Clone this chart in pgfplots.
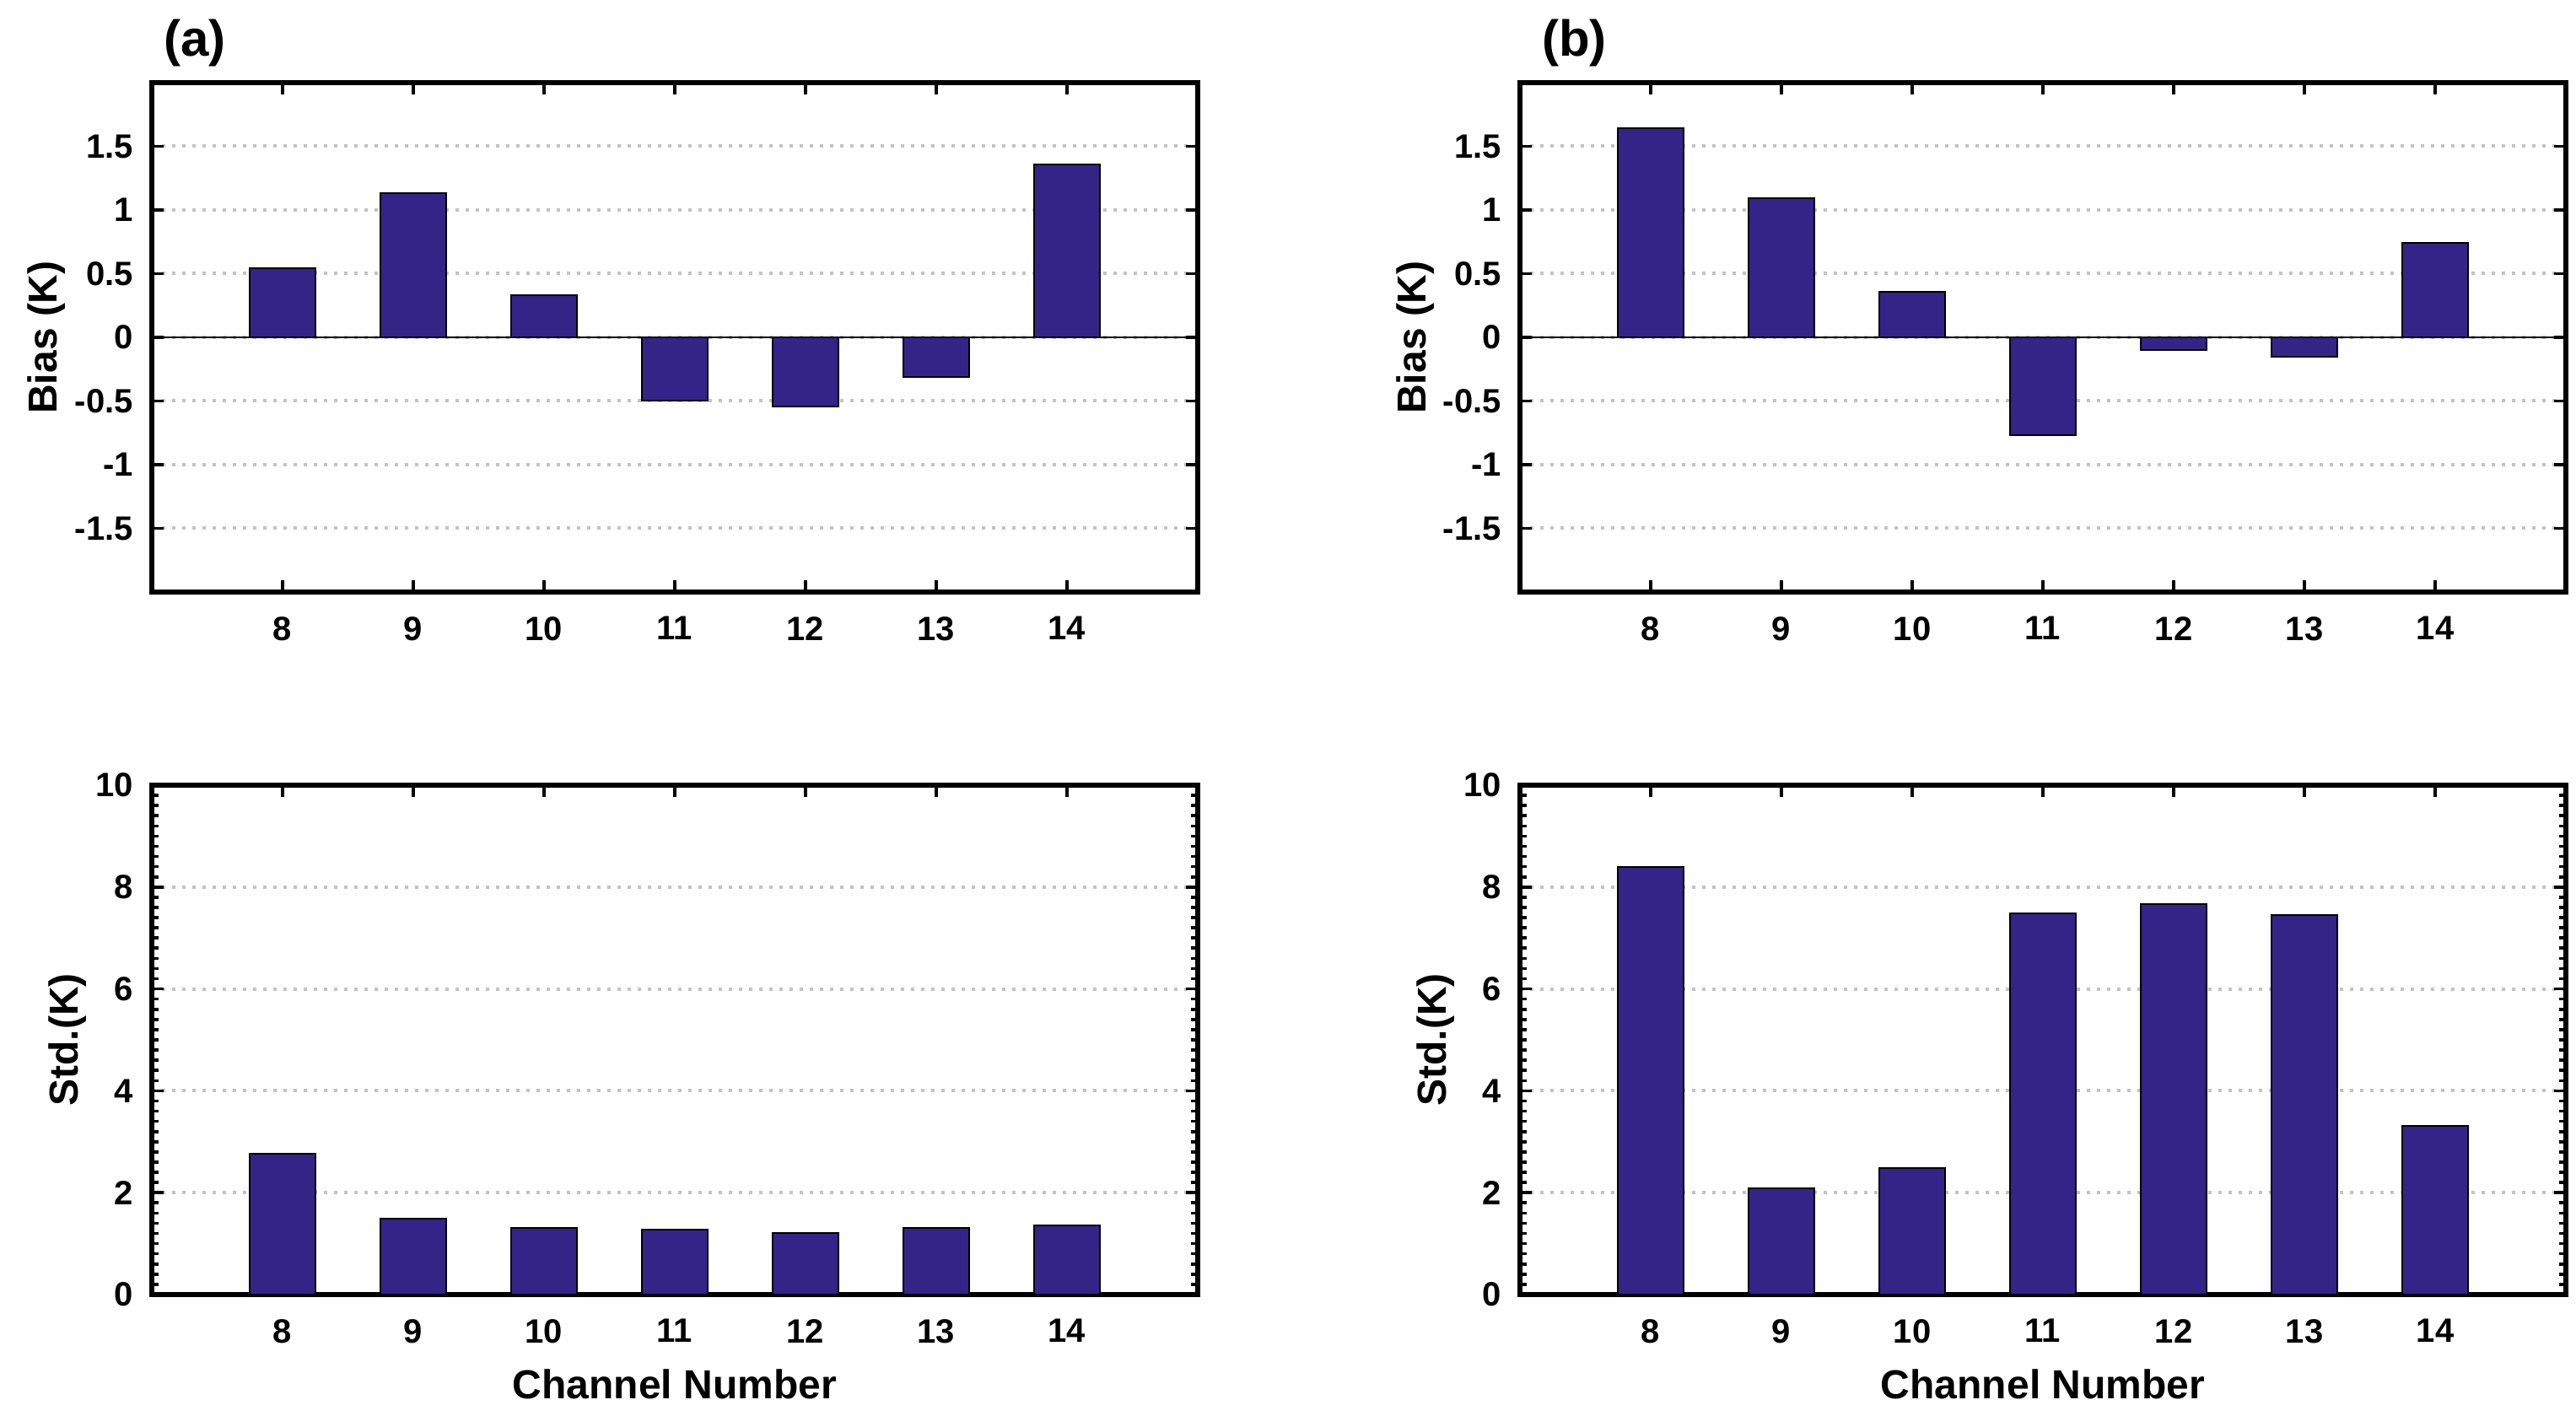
\documentclass[border=0pt]{standalone}
\usepackage{fontspec}
\setmainfont{Liberation Sans}
\usepackage{pgfplots}
\pgfplotsset{compat=1.18}
\usepackage{pgfplotstable}

\definecolor{barblue}{RGB}{52,36,136}
\definecolor{gridgray}{RGB}{195,195,195}

% channel, bias (K), std (K)
\pgfplotstableread{
ch  bias   std
8   0.54   2.76
9   1.13   1.49
10  0.33   1.30
11  -0.50  1.28
12  -0.54  1.21
13  -0.31  1.30
14  1.36   1.35
}\dataA

\pgfplotstableread{
ch  bias   std
8   1.64   8.40
9   1.09   2.08
10  0.36   2.49
11  -0.77  7.49
12  -0.10  7.67
13  -0.15  7.45
14  0.74   3.31
}\dataB

\pgfplotsset{
  chan/.style={
    scale only axis, width=310pt, height=151pt,
    anchor=south west,
    xmin=7, xmax=15, xtick={8,...,14},
    tick align=inside,
    axis line style={line width=1.4pt},
    major tick length=3.5pt, minor tick length=2pt,
    tick style={black, line width=0.9pt},
    ymajorgrids,
    grid style={gridgray, line width=1pt, dash pattern=on 0.9pt off 2.1pt},
    tick label style={font=\fontsize{10}{12}\selectfont\bfseries},
    /pgf/number format/assume math mode=true,
    label style={font=\fontsize{12}{14}\selectfont\bfseries},
    xticklabel style={yshift=-3.8pt},
    yticklabel style={xshift=-2pt},
  },
  biasax/.style={chan,
    ymin=-2, ymax=2,
    ytick={-1.5,-1,-0.5,0,0.5,1,1.5},
    yticklabels={-1.5,-1,-0.5,0,0.5,1,1.5},
    ylabel={Bias (K)},
    ylabel style={at={([xshift=-28pt]axis description cs:0,0.5)}, anchor=base},
  },
  stdax/.style={chan,
    ymin=0, ymax=10, ytick={0,2,...,10},
    minor y tick num=9,
    ylabel={Std.(K)},
    ylabel style={at={([xshift=-21.8pt]axis description cs:0,0.5)}, anchor=base},
    xlabel={Channel Number},
    xlabel style={at={([yshift=-31pt]axis description cs:0.5,0)}, anchor=base},
  },
  bars/.style={ybar, bar width=0.5, fill=barblue, draw=black, line width=0.5pt},
}

\begin{document}
\begin{tikzpicture}
\path[use as bounding box] (0,0) rectangle (763.5pt,419.75pt);

% (a) bias
\begin{axis}[biasax, at={(45pt,244.25pt)}]
  \addplot[bars] table[x=ch, y=bias] {\dataA};
  \draw[black, line width=0.4pt] (axis cs:7,0) -- (axis cs:15,0);
\end{axis}

% (b) bias
\begin{axis}[biasax, at={(450.5pt,244.25pt)}]
  \addplot[bars] table[x=ch, y=bias] {\dataB};
  \draw[black, line width=0.4pt] (axis cs:7,0) -- (axis cs:15,0);
\end{axis}

% (a) std
\begin{axis}[stdax, at={(45pt,36pt)}]
  \addplot[bars] table[x=ch, y=std] {\dataA};
\end{axis}

% (b) std
\begin{axis}[stdax, at={(450.5pt,36pt)}]
  \addplot[bars] table[x=ch, y=std] {\dataB};
\end{axis}

\node[anchor=base west, font=\fontsize{15}{18}\selectfont\bfseries] at (45pt,403pt) {(a)};
\node[anchor=base west, font=\fontsize{15}{18}\selectfont\bfseries] at (453.5pt,403pt) {(b)};
\end{tikzpicture}
\end{document}
